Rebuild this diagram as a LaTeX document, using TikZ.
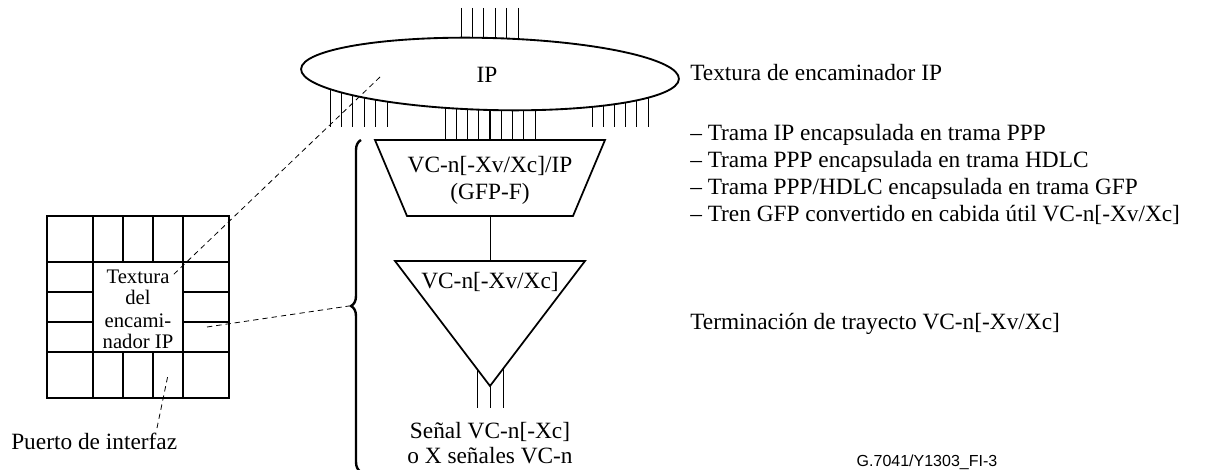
\documentclass[tikz,border=0pt]{standalone}
\usepackage{fontspec}
\setmainfont{Liberation Serif}
\newfontfamily\figsans{Liberation Sans}
\usetikzlibrary{shapes.geometric,decorations.pathreplacing}
\tikzset{
  txt/.style={inner sep=0,anchor=base west,font=\fontsize{17.5}{20}\selectfont},
  ctxt/.style={inner sep=0,anchor=base,font=\fontsize{17.5}{20}\selectfont},
  dsh/.style={dash pattern=on 4pt off 3pt,line width=0.6pt},
  thn/.style={line width=0.6pt},
  thk/.style={line width=1.3pt},
  grd/.style={line width=1pt}
}
\begin{document}
\begin{tikzpicture}[x=0.75pt,y=-0.75pt]
\useasboundingbox (0,0) rectangle (1206,470);
%ports of the fabric
\foreach \i in {0,...,5}{\draw[thn] ({461+11.4*\i},8)--++(0,32);}
\foreach \i in {0,...,5}{\draw[thn] ({330+11.4*\i},80)--(330+11.4*\i,127);}
\foreach \i in {0,...,5}{\draw[thn] ({592+11.2*\i},80)--(592+11.2*\i,127);}
\foreach \i in {0,...,8}{\draw[thn] ({445+11.25*\i},80)--(445+11.25*\i,140);}
\draw[grd] (490,80)--(490,140);
%fabric
\node[ellipse,draw,fill=white,line width=1.4pt,minimum width=283.5pt,minimum height=54pt,inner sep=0,rotate=-1.5] (ip) at (490,74) {};
\node[ctxt] (iplbl) at (487,83) {IP};
%adaptation
\draw[thk,fill=white] (375,140)--(605,140)--(573,216)--(407,216)--cycle;
\node[ctxt] (gfp1) at (490,173) {VC-n[-Xv/Xc]/IP};
\node[ctxt] (gfp2) at (490,200) {(GFP-F)};
\coordinate (gfps) at (490,216);
\coordinate (vcn) at (490,261);
\draw[thn] (gfps)--(vcn);
%termination
\foreach \x in {477,490,503}{\draw[thn] (\x,340)--(\x,408);}
\draw[thk,fill=white] (395,261)--(585,261)--(490,386)--cycle;
\node[ctxt] (vclbl) at (490,289) {VC-n[-Xv/Xc]};
\node[ctxt] (sig1) at (490,438) {Señal VC-n[-Xc]};
\node[ctxt] (sig2) at (490,463) {o X señales VC-n};
%brace
\draw[decorate,decoration={brace,amplitude=7.5pt},line width=1.8pt] (361,472)--(361,140);
\coordinate (bracetip) at (349,306);
%router
\draw[grd] (47,216) rectangle (229,398);
\draw[grd] (47,262)--(229,262) (47,352)--(229,352) (93,216)--(93,398) (183,216)--(183,398);
\foreach \x in {123,153}{\draw[grd] (\x,216)--++(0,46); \draw[grd] (\x,352)--++(0,46);}
\foreach \y in {292,322}{\draw[grd] (47,\y)--++(46,0); \draw[grd] (183,\y)--++(46,0);}
\foreach \t/\y [count=\i] in {Textura/283,del/305,encami-/327,nador IP/348}{\node[ctxt,font=\fontsize{15.5}{18}\selectfont] (core\i) at (138,\y) {\t};}
\node[txt] (port) at (11,449) {Puerto de interfaz};
%dashed pointers
\coordinate (ipin) at (380,77);
\coordinate (corein) at (172,276);
\coordinate (cellpt) at (207,327);
\coordinate (portpt) at (168,375);
\coordinate (porttop) at (157,428);
\draw[dsh] (ipin)--(corein);
\draw[dsh] (cellpt)--(bracetip);
\draw[dsh] (porttop)--(portpt);
%right labels
\node[txt] (fablbl) at (690,81) {Textura de encaminador IP};
\foreach \t [count=\i] in {{– Trama IP encapsulada en trama PPP},{– Trama PPP encapsulada en trama HDLC},{– Trama PPP/HDLC encapsulada en trama GFP},{– Tren GFP convertido en cabida útil VC-n[-Xv/Xc]}}
  {\node[txt] (step\i) at (690,{141+27*(\i-1)}) {\t};}
\node[txt] (termlbl) at (690,329) {Terminación de trayecto VC-n[-Xv/Xc]};
\node[inner sep=0,anchor=base,font=\figsans\fontsize{12}{14}\selectfont] (figid) at (927,466) {G.7041/Y1303\_FI-3};
\end{tikzpicture}
\end{document}
